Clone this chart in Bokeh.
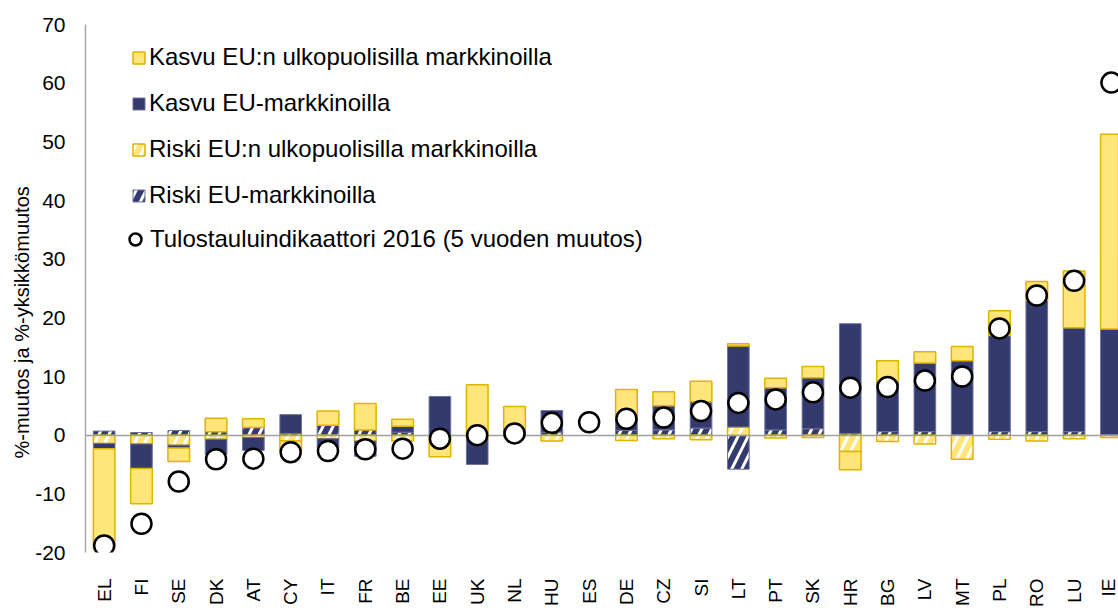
from math import pi
import numpy as np
from bokeh.plotting import figure
from bokeh.models import (ColumnDataSource, Range1d, FixedTicker, Legend, LegendItem, Title)
from bokeh.embed import file_html
from bokeh.resources import INLINE

countries = ["EL", "FI", "SE", "DK", "AT", "CY", "IT", "FR", "BE", "EE", "UK", "NL", "HU", "ES",
             "DE", "CZ", "SI", "LT", "PT", "SK", "HR", "BG", "LV", "MT", "PL", "RO", "LU", "IE"]
riski_eu = [0.7, 0.45, 0.8, 0.6, 1.3, 0.3, 1.7, 0.9, 0.5, 0.0, 0.0, 0.3, 0.5, 0.0,
            0.8, 0.9, 1.2, -5.8, 0.9, 1.1, 0.3, 0.6, 0.6, 0.1, 0.6, 0.6, 0.6, 0.1]
riski_ulko = [-1.4, -1.5, -1.7, -0.7, -0.4, -1.0, -0.6, -1.0, -1.0, -0.3, -0.5, -0.3, -1.0, 0.0,
              -0.9, -0.6, -0.8, 1.4, -0.5, -0.4, -2.8, -1.1, -1.5, -4.1, -0.7, -1.0, -0.6, -0.4]
kasvu_eu = [-0.9, -4.2, -0.5, -2.6, -2.2, 3.2, -1.5, -2.6, 1.0, 6.6, -4.5, 0.8, 3.7, 0.0,
            2.2, 4.1, 4.5, 13.8, 7.2, 8.7, 18.7, 8.6, 11.7, 12.6, 16.4, 22.4, 17.7, 18.0]
kasvu_ulko = [-17.0, -6.0, -2.3, 2.3, 1.5, -1.7, 2.4, 4.5, 1.2, -3.4, 8.6, 3.8, 0.0, 0.0,
              4.8, 2.4, 3.5, 0.4, 1.6, 1.9, -3.1, 3.5, 1.9, 2.4, 4.2, 3.2, 9.7, 33.2]
indikaattori = [-18.8, -15.1, -7.9, -4.1, -4.0, -2.9, -2.7, -2.4, -2.3, -0.6, 0.0, 0.3, 2.1, 2.2,
                2.8, 3.0, 4.1, 5.5, 6.1, 7.3, 8.1, 8.2, 9.3, 10.0, 18.2, 23.8, 26.3, 60.1]
y_ticks = [-20, -10, 0, 10, 20, 30, 40, 50, 60, 70]
y_tick_labels = ["-20", "-10", "0", "10", "20", "30", "40", "50", "60", "70"]

labels = {
    "kasvu_ulko": "Kasvu EU:n ulkopuolisilla markkinoilla",
    "kasvu_eu": "Kasvu EU-markkinoilla",
    "riski_ulko": "Riski EU:n ulkopuolisilla markkinoilla",
    "riski_eu": "Riski EU-markkinoilla",
    "ind": "Tulostauluindikaattori 2016 (5 vuoden muutos)",
}
y_title = "%-muutos ja %-yksikkömuutos"

YELLOW = "#FFE57A"
GOLD = "#E0B400"
NAVY = "#343A6E"
NAVY_EDGE = "#6E739C"
FONT = "Liberation Sans"

n = len(countries)
idx = np.arange(n, dtype=float)

# Excel-like stacking: series order riski_eu, riski_ulko, kasvu_eu, kasvu_ulko
order = [("riski_eu", riski_eu), ("riski_ulko", riski_ulko),
         ("kasvu_eu", kasvu_eu), ("kasvu_ulko", kasvu_ulko)]
pos = np.zeros(n)
neg = np.zeros(n)
sources = {}
for key, vals in order:
    v = np.array(vals, dtype=float)
    bottom = np.where(v >= 0, pos, neg)
    top = bottom + v
    pos = np.where(v > 0, pos + v, pos)
    neg = np.where(v < 0, neg + v, neg)
    m = v != 0
    sources[key] = ColumnDataSource(dict(x=idx[m], bottom=bottom[m], top=top[m]))

p = figure(width=1118, height=610,
           x_range=Range1d(-0.5, 27.19), y_range=Range1d(-20, 70),
           output_backend="svg", toolbar_location=None,
           min_border_left=85, min_border_right=0, min_border_top=24, min_border_bottom=52)
p.outline_line_color = None
p.xgrid.visible = False
p.ygrid.visible = False
p.background_fill_color = "white"
p.border_fill_color = "white"

W = 0.58
styles = {
    "riski_eu": dict(fill_color=NAVY, line_color=NAVY_EDGE, line_width=1,
                     hatch_pattern="/", hatch_color="white", hatch_weight=3, hatch_scale=20),
    "riski_ulko": dict(fill_color=YELLOW, line_color=GOLD, line_width=1.5,
                       hatch_pattern="/", hatch_color="white", hatch_weight=3, hatch_scale=20),
    "kasvu_eu": dict(fill_color=NAVY, line_color=NAVY_EDGE, line_width=1),
    "kasvu_ulko": dict(fill_color=YELLOW, line_color=GOLD, line_width=1.5),
}
rends = {}
for key, _ in order:
    rends[key] = p.vbar(x="x", bottom="bottom", top="top", width=W,
                        source=sources[key], **styles[key])

p.hspan(y=[0], line_color="#A0A0A0", line_width=1.5)

ind_src = ColumnDataSource(dict(x=idx, y=indikaattori))
rends["ind"] = p.scatter(x="x", y="y", source=ind_src, size=20, marker="circle",
                         fill_color="white", line_color="black", line_width=2.5)

# y axis
ya = p.yaxis[0]
ya.ticker = FixedTicker(ticks=y_ticks)
ya.major_label_overrides = {t: s for t, s in zip(y_ticks, y_tick_labels)}
ya.major_tick_line_color = None
ya.minor_tick_line_color = None
ya.axis_line_color = "#A6A6A6"
ya.axis_line_width = 1.5
ya.major_label_standoff = 14
ya.major_label_text_font = FONT
ya.major_label_text_font_size = "21px"
ya.major_label_text_color = "black"

# x axis (categories)
xa = p.xaxis[0]
xa.ticker = FixedTicker(ticks=list(idx))
xa.major_label_overrides = {i: c for i, c in enumerate(countries)}
xa.major_label_orientation = pi / 2
xa.major_tick_line_color = None
xa.minor_tick_line_color = None
xa.axis_line_color = None
xa.major_label_standoff = 20
xa.major_label_text_font = FONT
xa.major_label_text_font_size = "19px"
xa.major_label_text_color = "black"

# y axis title
p.add_layout(Title(text=y_title, align="left", offset=94, text_font=FONT,
                   text_font_size="20px", text_font_style="normal", text_color="black",
                   standoff=0), "left")

# legends
leg1 = Legend(items=[LegendItem(label=labels[k], renderers=[rends[k]])
                     for k in ["kasvu_ulko", "kasvu_eu", "riski_ulko", "riski_eu"]],
              location=(46, 343), orientation="vertical",
              glyph_width=15, glyph_height=15, label_height=27, spacing=18,
              label_standoff=3, padding=0, margin=0,
              label_text_font=FONT, label_text_font_size="24px", label_text_color="black",
              background_fill_alpha=0, border_line_color=None)
leg2 = Legend(items=[LegendItem(label=labels["ind"], renderers=[rends["ind"]])],
              location=(35, 298), orientation="vertical",
              glyph_width=30, glyph_height=30, label_height=27, spacing=0,
              label_standoff=0, padding=0, margin=0,
              label_text_font=FONT, label_text_font_size="24px", label_text_color="black",
              background_fill_alpha=0, border_line_color=None)
p.add_layout(leg1)
p.add_layout(leg2)

open("out.html", "w").write(file_html(p, INLINE))
